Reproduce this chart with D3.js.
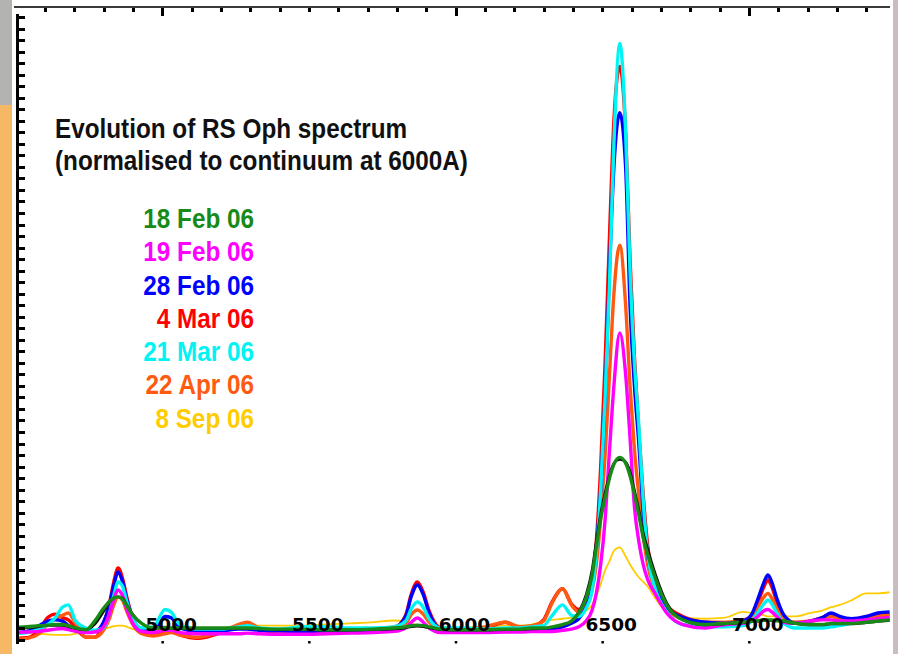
<!DOCTYPE html>
<html>
<head>
<meta charset="utf-8">
<script src="https://cdn.jsdelivr.net/npm/d3@7"></script>
<style>
  body { margin: 0; background: #fff; }
  svg { display: block; }
</style>
</head>
<body>
<svg id="chart" width="898" height="654"></svg>
<script>
// wavelength grid (Angstrom) shared by all spectra
const wavelengths = [
  4500, 4540, 4580, 4610, 4636, 4660, 4680, 4705, 4740,
  4770, 4800, 4820, 4835, 4850, 4865, 4880, 4900, 4930,
  4970, 5010, 5030, 5060, 5120, 5200, 5260, 5290, 5330, 5400, 5480, 5560, 5640, 5720, 5790, 5830,
  5850, 5870, 5890, 5910, 5950,
  6020, 6100, 6170, 6220, 6260,
  6300, 6330, 6365, 6395, 6420, 6445, 6465, 6480, 6495, 6510, 6525, 6540, 6560, 6580, 6595, 6610, 6625, 6640, 6655, 6680, 6720, 6775, 6850,
  6920, 6980, 7010, 7035, 7052, 7065, 7078, 7095, 7120, 7160, 7210, 7250, 7280, 7310, 7350, 7400, 7440, 7480
];

// flux normalised to continuum
const feb18 = [
  1.05, 1.1, 1.2, 1.25, 1.3, 1.3, 1.2, 1.0, 0.85,
  1.6, 2.7, 3.3, 3.6, 3.7, 3.5, 2.9, 2.1, 1.4,
  1.0, 1.05, 1.0, 1.0, 1.0, 1.0, 1.0, 1.0, 0.95, 0.9, 0.9, 0.85, 0.85, 0.9, 1.0, 1.1,
  1.2, 1.25, 1.2, 1.1, 0.9,
  0.85, 0.85, 0.9, 0.9, 1.0,
  1.0, 1.1, 1.3, 1.6, 2.3, 3.6, 5.5, 8.0, 10.5, 12.3, 14.0, 15.2, 15.8, 15.3, 14.2, 12.6, 10.8, 8.8, 7.4, 5.4, 3.0, 1.7, 1.3,
  1.4, 1.5, 1.6, 1.65, 1.7, 1.7, 1.7, 1.65, 1.6, 1.4, 1.3, 1.3, 1.4, 1.4, 1.4, 1.5, 1.6, 1.7
];
const feb19 = [
  0.6, 0.65, 0.7, 0.8, 0.9, 0.95, 0.85, 0.7, 0.6,
  0.65, 1.1, 2.2, 3.5, 4.3, 3.8, 2.6, 1.4, 0.7,
  0.6, 0.8, 0.8, 0.6, 0.5, 0.5, 0.5, 0.55, 0.5, 0.45, 0.45, 0.5, 0.55, 0.6, 0.7, 1.0,
  1.5, 1.86, 1.5, 1.0, 0.6,
  0.6, 0.6, 0.65, 0.65, 0.7,
  0.7, 0.7, 0.8, 0.9, 1.1, 1.6, 2.5, 4.0, 6.5, 10.4, 16.4, 22, 26.6, 23, 17.5, 11.5, 8.5, 6.5, 5.2, 4.0, 2.3, 1.3, 1.0,
  1.3, 1.4, 1.6, 2.1, 2.5, 2.6, 2.4, 2.0, 1.5, 1.4, 1.6, 1.7, 1.7, 1.6, 1.6, 1.7, 1.8, 1.9
];
const feb28 = [
  0.6, 0.7, 1.2, 1.6, 1.7, 1.6, 1.2, 0.75, 0.65,
  0.7, 1.5, 3.0, 4.7, 5.85, 5.0, 3.4, 1.8, 0.9,
  0.8, 2.0, 1.9, 1.0, 0.7, 0.75, 0.9, 0.9, 0.8, 0.75, 0.7, 0.75, 0.8, 0.8, 1.0, 2.0,
  3.8, 4.73, 3.9, 2.3, 0.9,
  0.8, 0.8, 0.85, 0.85, 0.9,
  0.9, 0.95, 1.1, 1.4, 1.8, 2.8, 4.5, 8.0, 13, 21, 32, 41, 45.7, 41, 29, 22, 17, 11, 7.3, 4.9, 2.8, 1.9, 1.5,
  1.4, 1.6, 2.2, 3.8, 5.0, 5.6, 5.0, 3.6, 2.1, 1.4, 1.6, 1.9, 2.3, 2.0, 1.8, 2.0, 2.3, 2.4
];
const mar04 = [
  0.1, 0.15, 0.8, 1.9, 2.2, 1.9, 1.7, 1.0, 0.2,
  0.2, 1.4, 3.1, 5.0, 6.2, 5.3, 3.6, 1.8, 0.6,
  0.4, 0.6, 0.7, 0.4, 0.1, 0.6, 1.2, 1.4, 0.9, 0.6, 0.5, 0.6, 0.7, 0.8, 1.0, 2.1,
  4.0, 5.0, 4.1, 2.5, 1.0,
  0.9, 1.0, 1.5, 1.0, 1.1,
  1.7, 3.3, 4.4, 3.1, 2.6, 3.1, 5.0, 8.5, 15, 24, 35, 45, 49.7, 44, 33, 24.5, 18, 12.5, 8.2, 5.2, 3.0, 2.0, 1.5,
  1.4, 1.6, 2.1, 3.5, 4.6, 5.16, 4.6, 3.3, 2.0, 1.4, 1.6, 1.9, 2.2, 1.9, 1.7, 1.9, 2.1, 2.2
];
const mar21 = [
  0.5, 0.6, 0.9, 1.3, 1.9, 2.8, 3.0, 1.6, 1.0,
  0.8, 1.0, 2.2, 3.8, 5.0, 4.6, 3.2, 1.8, 1.0,
  1.1, 2.6, 2.4, 1.3, 0.9, 0.9, 1.1, 1.2, 1.0, 0.9, 1.1, 1.1, 1.0, 1.0, 1.1, 1.6,
  2.7, 3.25, 2.8, 1.8, 1.0,
  1.0, 0.9, 1.0, 1.0, 1.1,
  1.2, 2.1, 3.0, 2.1, 2.0, 2.7, 4.2, 7.5, 13, 21, 31, 43, 51.7, 44, 32, 24, 18.5, 12, 7.5, 4.5, 2.4, 1.3, 1.1,
  1.1, 1.2, 1.6, 2.5, 3.1, 3.43, 3.1, 2.3, 1.4, 1.0, 1.0, 1.0, 1.1, 1.2, 1.4, 1.6, 1.7, 1.8
];
const apr22 = [
  0.0, 0.1, 0.5, 1.3, 1.8, 2.1, 2.3, 1.4, 0.2,
  0.2, 0.8, 1.8, 3.0, 3.7, 3.4, 2.4, 1.3, 0.5,
  0.3, 0.5, 0.6, 0.4, 0.2, 0.7, 1.3, 1.5, 1.0, 0.7, 0.6, 0.7, 0.8, 0.9, 1.1, 1.4,
  2.2, 2.56, 2.2, 1.5, 0.9,
  0.9, 1.1, 1.5, 1.1, 1.2,
  1.6, 3.2, 4.4, 3.0, 2.4, 2.9, 4.2, 6.5, 10.5, 16, 23, 30, 34.2, 29, 22, 16.5, 12.5, 9, 6.5, 4.3, 2.6, 1.8, 1.5,
  1.5, 1.7, 2.0, 3.0, 3.7, 4.0, 3.6, 2.7, 1.8, 1.5, 1.6, 1.8, 2.0, 1.8, 1.7, 1.8, 2.0, 2.1
];
const sep08 = [
  0.6, 0.55, 0.5, 0.45, 0.4, 0.4, 0.4, 0.5, 0.7,
  0.8, 0.9, 1.05, 1.15, 1.2, 1.2, 1.1, 0.9, 0.8,
  0.8, 0.9, 0.9, 0.9, 0.9, 1.0, 1.1, 1.2, 1.2, 1.2, 1.2, 1.3, 1.4, 1.5, 1.65, 1.6,
  1.4, 1.2, 1.1, 1.0, 1.0,
  1.0, 1.1, 1.2, 1.2, 1.3,
  1.6, 1.7, 1.8, 1.9, 2.1, 2.5, 3.0, 3.8, 4.8, 6.0, 6.8, 7.7, 8.0, 7.2, 6.5, 5.9, 5.4, 5.0, 4.6, 3.6, 2.4, 1.9, 1.8,
  1.9, 2.4, 2.3, 2.2, 2.1, 2.0, 2.0, 2.0, 2.0, 2.0, 2.3, 2.5, 2.8, 3.0, 3.4, 4.0, 4.0, 4.1
];
// unlabelled dark trace lying just under the 18 Feb one
const darkTrace = [
  1.0, 1.0, 1.1, 1.2, 1.2, 1.2, 1.1, 0.95, 0.85,
  1.3, 2.4, 3.2, 3.6, 3.7, 3.6, 3.0, 2.2, 1.4,
  1.0, 1.0, 0.95, 0.95, 0.95, 0.95, 0.95, 0.95, 0.9, 0.85, 0.85, 0.8, 0.8, 0.85, 0.9, 1.0,
  1.1, 1.15, 1.1, 1.0, 0.85,
  0.8, 0.8, 0.85, 0.85, 0.9,
  0.95, 1.05, 1.25, 1.6, 2.4, 3.9, 6.0, 8.6, 11.0, 12.8, 14.3, 15.3, 15.6, 15.4, 14.6, 13.0, 11.3, 9.3, 7.9, 5.8, 3.2, 1.7, 1.25,
  1.35, 1.45, 1.55, 1.6, 1.65, 1.65, 1.65, 1.6, 1.55, 1.35, 1.25, 1.25, 1.35, 1.35, 1.35, 1.45, 1.55, 1.65
];

const titleLines = ["Evolution of RS Oph spectrum", "(normalised to continuum at 6000A)"];
const xLabelTicks = [5000, 5500, 6000, 6500, 7000];

// legend order
const series = [
  { label: "18 Feb 06", color: "#188a18", values: feb18 },
  { label: "19 Feb 06", color: "#ff00ff", values: feb19 },
  { label: "28 Feb 06", color: "#0000ff", values: feb28 },
  { label: "4 Mar 06",  color: "#ff0000", values: mar04 },
  { label: "21 Mar 06", color: "#00f4f4", values: mar21 },
  { label: "22 Apr 06", color: "#ff5a10", values: apr22 },
  { label: "8 Sep 06",  color: "#ffcc00", values: sep08 }
];

const svg = d3.select("#chart");

// textured frame strips
svg.append("rect").attr("x", 0).attr("y", 0).attr("width", 12).attr("height", 105).attr("fill", "#b3b3b1");
svg.append("rect").attr("x", 0).attr("y", 105).attr("width", 12).attr("height", 549).attr("fill", "#f6b865");
svg.append("rect").attr("x", 893).attr("y", 0).attr("width", 5).attr("height", 654).attr("fill", "#c9bdbd");

const x = d3.scaleLinear().domain([4500, 7500]).range([15.5, 895.5]);
const y = d3.scaleLinear().domain([0, 54]).range([639.5, 17]);

svg.append("clipPath").attr("id", "plot")
  .append("rect").attr("x", 18).attr("y", 14).attr("width", 872).attr("height", 632);

const line = d3.line()
  .x((d, i) => x(wavelengths[i]))
  .y(d => y(d))
  .curve(d3.curveMonotoneX);

const g = svg.append("g").attr("clip-path", "url(#plot)");

// drawing order: yellow underneath, green on top
const drawOrder = [6, 3, 5, 2, 4, 1];
drawOrder.forEach(k => {
  const s = series[k];
  g.append("path")
    .attr("d", line(s.values))
    .attr("fill", "none")
    .attr("stroke", s.color)
    .attr("stroke-width", k === 6 ? 1.8 : 3.4)
    .attr("stroke-linejoin", "round");
});
g.append("path")
  .attr("d", line(darkTrace))
  .attr("fill", "none").attr("stroke", "#111").attr("stroke-width", 2.4);
g.append("path")
  .attr("d", line(feb18))
  .attr("fill", "none").attr("stroke", series[0].color).attr("stroke-width", 3.4)
  .attr("stroke-linejoin", "round");

// left axis
svg.append("g")
  .attr("transform", "translate(17,0)")
  .attr("shape-rendering", "crispEdges")
  .call(d3.axisRight(y).tickValues(d3.range(0, 55)).tickSize(8).tickFormat(""))
  .call(a => a.select(".domain").remove())
  .call(a => a.selectAll("line").attr("stroke", "#000").attr("stroke-width", 3));
svg.append("line").attr("x1", 17).attr("x2", 17).attr("y1", 14).attr("y2", 644)
  .attr("stroke", "#000").attr("stroke-width", 3).attr("shape-rendering", "crispEdges");

// top axis
const topAxis = svg.append("g").attr("transform", "translate(0,7)").attr("shape-rendering", "crispEdges");
topAxis.call(d3.axisBottom(x).tickValues(d3.range(4600, 7500, 100)).tickSize(5).tickFormat(""))
  .call(a => a.select(".domain").remove())
  .call(a => a.selectAll("line").attr("stroke", "#000").attr("stroke-width", 3));
topAxis.append("g")
  .call(d3.axisBottom(x).tickValues([5000, 6000, 7000]).tickSize(9).tickFormat(""))
  .call(a => a.select(".domain").remove())
  .call(a => a.selectAll("line").attr("stroke", "#000").attr("stroke-width", 3));
svg.append("line").attr("x1", 14).attr("x2", 890).attr("y1", 7).attr("y2", 7)
  .attr("stroke", "#3a3a3a").attr("stroke-width", 2).attr("shape-rendering", "crispEdges");

// bottom tick labels with small dot marks
const bottomAxis = svg.append("g").attr("transform", "translate(0,641)")
  .call(d3.axisBottom(x).tickValues(xLabelTicks).tickSize(2.5).tickPadding(0).tickFormat(d3.format("d")))
  .call(a => a.select(".domain").remove());
bottomAxis.selectAll("line").attr("stroke", "#000").attr("stroke-width", 2.5);
bottomAxis.selectAll("text")
  .attr("y", -10).attr("dy", 0).attr("dx", 8.5)
  .attr("fill", "#000")
  .style("font", "bold 18.5px 'DejaVu Sans', sans-serif");

// title and legend, slightly condensed like the original
const txt = svg.append("g").attr("transform", "scale(0.9,1)");
txt.selectAll("text.title")
  .data(titleLines)
  .enter().append("text")
  .attr("class", "title")
  .attr("x", 55 / 0.9)
  .attr("y", (d, i) => 138 + i * 32)
  .attr("fill", "#111")
  .style("font", "bold 27px 'Liberation Sans', Arial, sans-serif")
  .text(d => d);

txt.selectAll("text.legend")
  .data(series)
  .enter().append("text")
  .attr("class", "legend")
  .attr("x", 254 / 0.9)
  .attr("y", (d, i) => 228 + i * 33.3)
  .attr("text-anchor", "end")
  .attr("fill", d => d.color)
  .style("font", "bold 27px 'Liberation Sans', Arial, sans-serif")
  .text(d => d.label);
</script>
</body>
</html>
